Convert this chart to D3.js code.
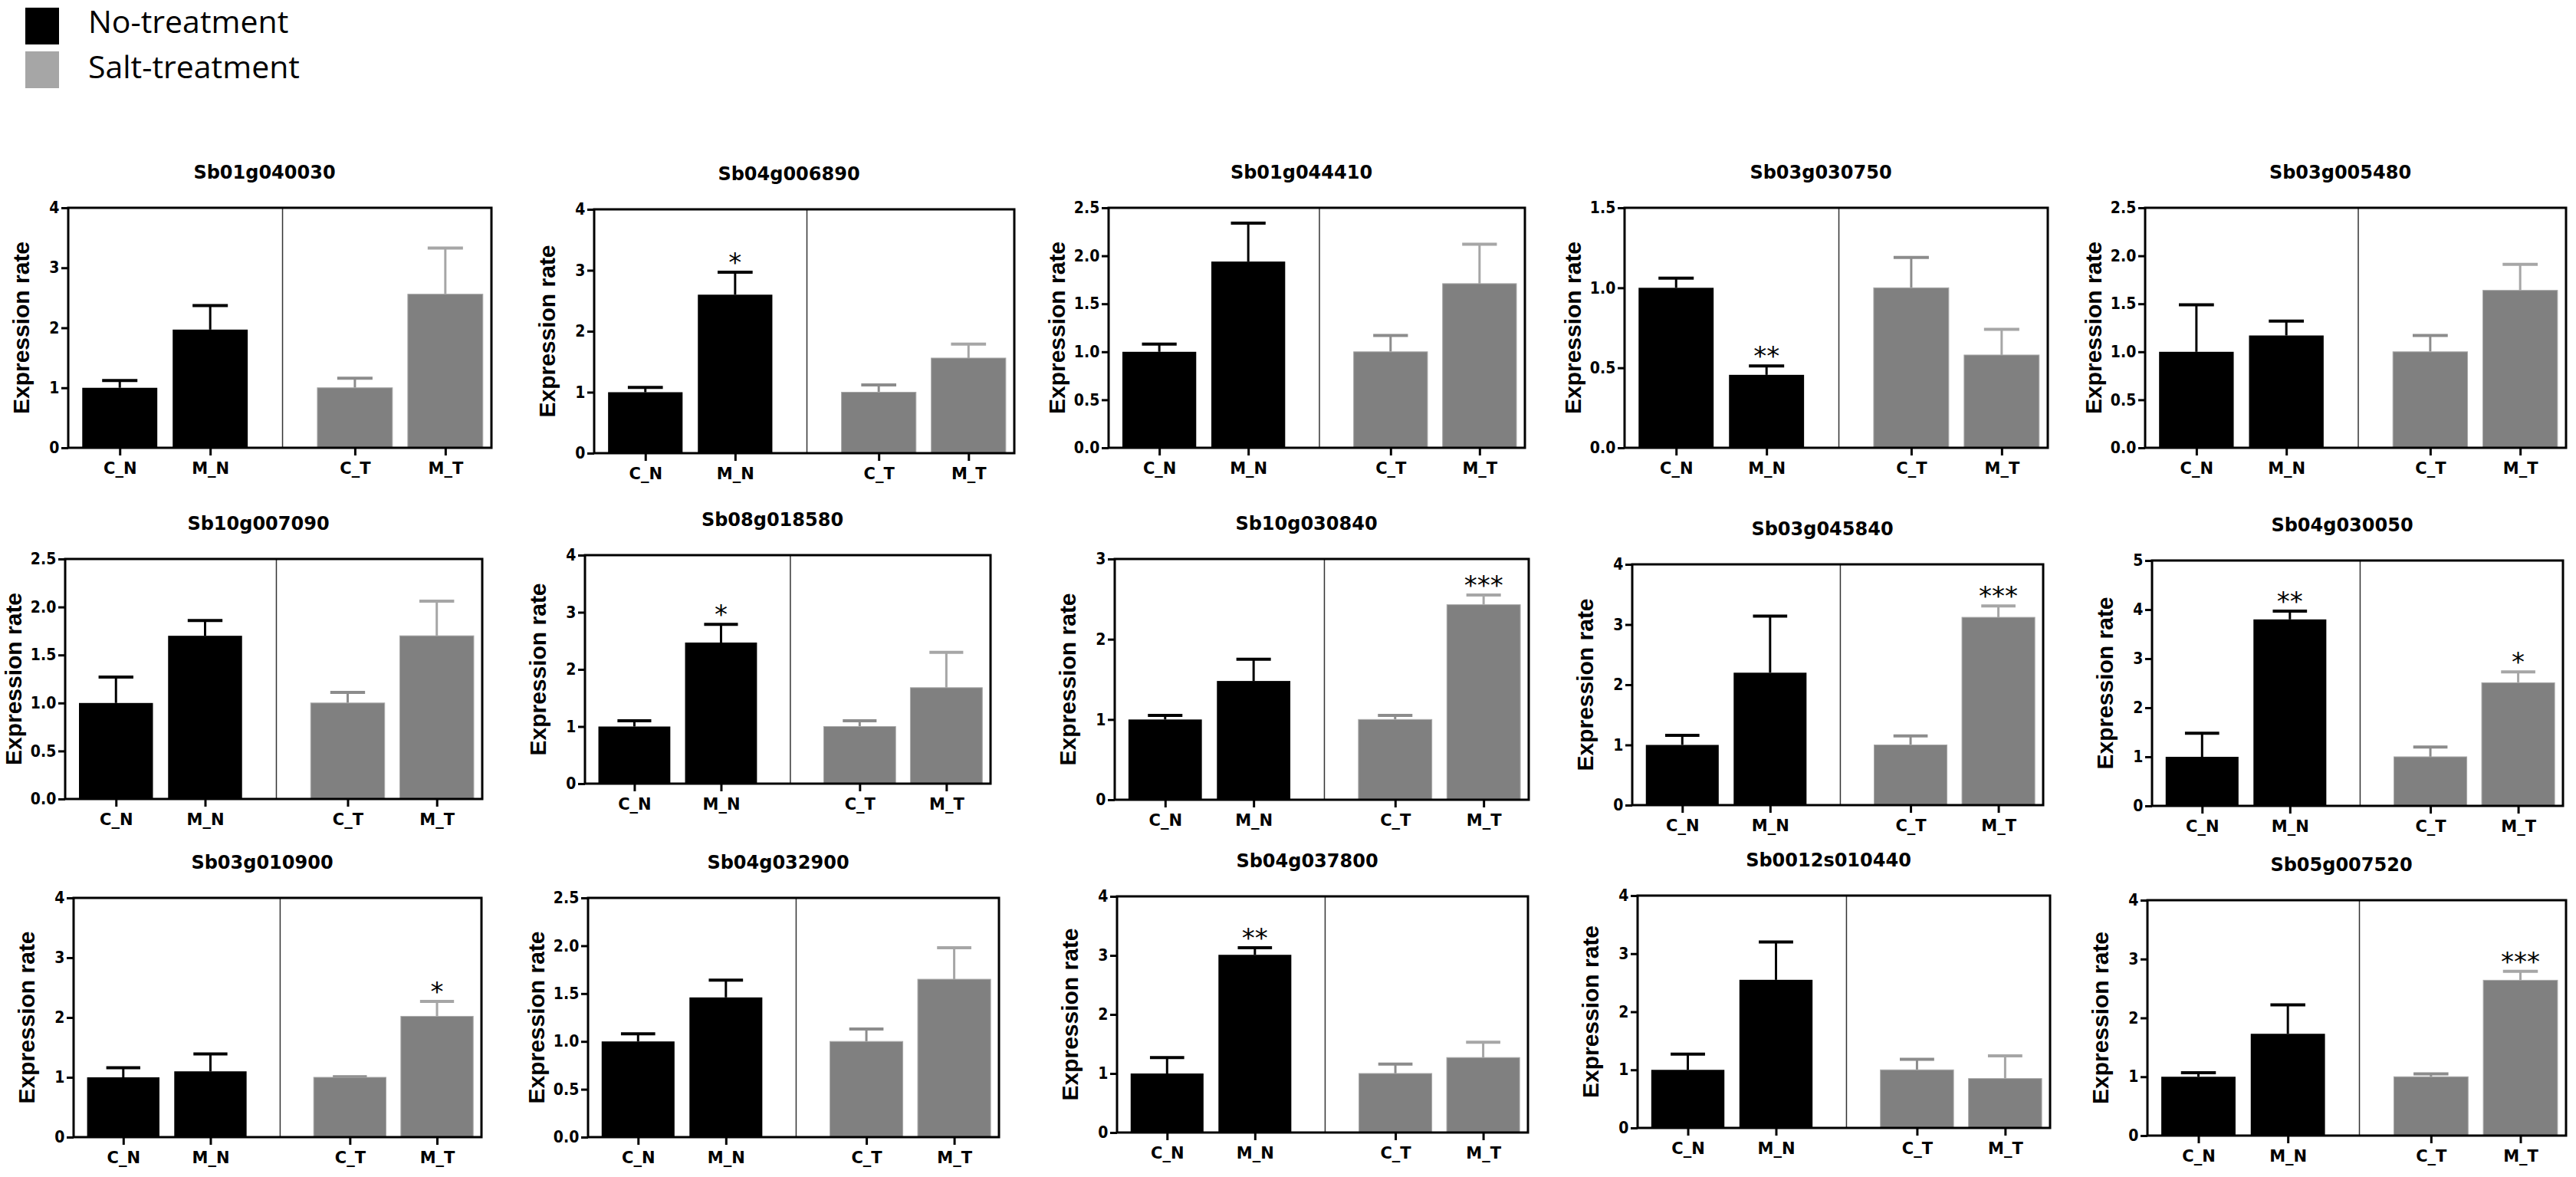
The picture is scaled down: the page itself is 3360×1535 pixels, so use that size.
<!DOCTYPE html>
<html>
<head>
<meta charset="utf-8">
<script src="https://cdn.jsdelivr.net/npm/d3@7"></script>
<style>
  body { margin: 0; background: #fff; }
  svg { display: block; }
</style>
</head>
<body>
<svg width="3360" height="1535"></svg>
<script>
// ---- data ----
const groups = ["C_N", "M_N", "C_T", "M_T"];
const legendLabels = ["No-treatment", "Salt-treatment"];
const yLabel = "Expression rate";

const genes = [
    "Sb01g040030", "Sb04g006890", "Sb01g044410", "Sb03g030750", "Sb03g005480",
    "Sb10g007090", "Sb08g018580", "Sb10g030840", "Sb03g045840", "Sb04g030050",
    "Sb03g010900", "Sb04g032900", "Sb04g037800", "Sb0012s010440", "Sb05g007520"
];

const yMax  = [4, 4, 2.5, 1.5, 2.5,  2.5, 4, 3, 4, 5,  4, 2.5, 4, 4, 4];
const yStep = [1, 1, 0.5, 0.5, 0.5,  0.5, 1, 1, 1, 1,  1, 0.5, 1, 1, 1];

// mean per group (C_N, M_N, C_T, M_T)
const means = [
    [1.0, 1.97, 1.0, 2.56],
    [1.0, 2.60, 1.0, 1.56],
    [1.0, 1.94, 1.0, 1.71],
    [1.0, 0.456, 1.0, 0.58],
    [1.0, 1.17, 1.0, 1.64],
    [1.0, 1.70, 1.0, 1.70],
    [1.0, 2.47, 1.0, 1.68],
    [1.0, 1.48, 1.0, 2.43],
    [1.0, 2.20, 1.0, 3.12],
    [1.0, 3.80, 1.0, 2.51],
    [1.0, 1.10, 1.0, 2.02],
    [1.0, 1.46, 1.0, 1.65],
    [1.0, 3.01, 1.0, 1.27],
    [1.0, 2.55, 1.0, 0.85],
    [1.0, 1.73, 1.0, 2.64]
];

// upper error (SEM)
const sems = [
    [0.12, 0.40, 0.16, 0.77],
    [0.08, 0.37, 0.12, 0.23],
    [0.08, 0.40, 0.17, 0.41],
    [0.06, 0.055, 0.19, 0.16],
    [0.49, 0.15, 0.17, 0.27],
    [0.27, 0.16, 0.11, 0.36],
    [0.10, 0.32, 0.10, 0.62],
    [0.05, 0.27, 0.05, 0.12],
    [0.16, 0.94, 0.15, 0.19],
    [0.48, 0.17, 0.20, 0.22],
    [0.16, 0.29, 0.01, 0.25],
    [0.08, 0.18, 0.13, 0.33],
    [0.27, 0.12, 0.16, 0.26],
    [0.27, 0.65, 0.18, 0.39],
    [0.07, 0.49, 0.05, 0.15]
];

const stars = [
    ["", "", "", ""],
    ["", "*", "", ""],
    ["", "", "", ""],
    ["", "**", "", ""],
    ["", "", "", ""],
    ["", "", "", ""],
    ["", "*", "", ""],
    ["", "", "", "***"],
    ["", "", "", "***"],
    ["", "**", "", "*"],
    ["", "", "", "*"],
    ["", "", "", ""],
    ["", "**", "", ""],
    ["", "", "", ""],
    ["", "", "", "***"]
];

// ---- layout ----
// plot boxes: left, top, right, bottom
const boxes = [
    [89, 271, 641, 584], [775, 273, 1323, 591], [1446, 271, 1989, 584],
    [2119, 271, 2671, 584], [2798, 271, 3347, 584],
    [85, 729, 629, 1042], [763, 724, 1292, 1022], [1454, 729, 1994, 1043],
    [2129, 736, 2665, 1050], [2807, 731, 3343, 1051],
    [96, 1171, 628, 1483], [767, 1171, 1303, 1483], [1457, 1169, 1993, 1477],
    [2136, 1168, 2674, 1471], [2801, 1174, 3347, 1481]
];
const groupPos = [0, 1, 2.6, 3.6];
const barColor = ["#000", "#000", "#808080", "#808080"];
const errColor = ["#000", "#000", "#8c8c8c", "#a6a6a6"];
const boldFont = "'DejaVu Sans', sans-serif";

const svg = d3.select("svg");

function drawLegend(svg) {
    const colors = ["#000", "#a6a6a6"];
    legendLabels.forEach((lab, k) => {
        svg.append("rect")
            .attr("x", 33).attr("y", 10 + k * 57)
            .attr("width", 44).attr("height", 48)
            .style("fill", colors[k]);
        svg.append("text")
            .attr("x", 115).attr("y", 43 + k * 59)
            .style("font-family", "'Open Sans', sans-serif")
            .style("font-size", "41px")
            .style("fill", "#000")
            .text(lab);
    });
}

function drawPanel(svg, i) {
    const [x0, y0, x1, y1] = boxes[i];
    const w = x1 - x0;
    const h = y1 - y0;
    const step = yStep[i];

    const g = svg.append("g").attr("transform", `translate(${x0},${y0})`);

    const scX = d3.scaleLinear().domain([-0.57, 4.11]).range([0, w]);
    const scY = d3.scaleLinear().domain([0, yMax[i]]).range([h, 0]);
    const unit = scX(1) - scX(0);
    const barW = unit * 0.83;
    const capW = barW * 0.47;

    const rows = groups.map((k, j) => ({
        key: k,
        pos: groupPos[j],
        mean: means[i][j],
        top: means[i][j] + sems[i][j],
        star: stars[i][j],
        j: j
    }));

    // title
    svg.append("text")
        .attr("x", x0 + w / 2 - 20)
        .attr("y", y0 - 38)
        .attr("text-anchor", "middle")
        .style("font-family", boldFont)
        .style("font-weight", "bold")
        .style("font-size", "24px")
        .text(genes[i]);

    // y label
    const labOff = step < 1 ? 68 : 62;
    svg.append("text")
        .attr("transform", `translate(${x0 - labOff},${y0 + h / 2}) rotate(-90)`)
        .attr("text-anchor", "middle")
        .attr("dy", "0.36em")
        .style("font-family", "'Liberation Sans', Arial, sans-serif")
        .style("font-weight", "bold")
        .style("font-size", "30px")
        .text(yLabel);

    // error bars
    g.selectAll(".err")
        .data(rows)
        .enter()
        .append("line")
        .attr("x1", d => scX(d.pos))
        .attr("x2", d => scX(d.pos))
        .attr("y1", d => scY(d.mean))
        .attr("y2", d => scY(d.top))
        .style("stroke", d => errColor[d.j])
        .style("stroke-width", 3);

    g.selectAll(".cap")
        .data(rows)
        .enter()
        .append("line")
        .attr("x1", d => scX(d.pos) - capW / 2)
        .attr("x2", d => scX(d.pos) + capW / 2)
        .attr("y1", d => scY(d.top))
        .attr("y2", d => scY(d.top))
        .style("stroke", d => errColor[d.j])
        .style("stroke-width", 4);

    // bars
    g.selectAll(".bar")
        .data(rows)
        .enter()
        .append("rect")
        .attr("x", d => scX(d.pos) - barW / 2)
        .attr("y", d => scY(d.mean))
        .attr("width", barW)
        .attr("height", d => h - scY(d.mean))
        .style("fill", d => barColor[d.j])
        .style("stroke", d => d.j >= 2 ? "#a8a8a8" : "none")
        .style("stroke-width", 1);

    // significance marks
    g.selectAll(".star")
        .data(rows.filter(d => d.star !== ""))
        .enter()
        .append("text")
        .attr("x", d => scX(d.pos))
        .attr("y", d => scY(d.top) - 1)
        .attr("text-anchor", "middle")
        .style("font-family", "'DejaVu Sans', sans-serif")
        .style("font-size", "34px")
        .text(d => d.star);

    // divider between treatments
    g.append("line")
        .attr("x1", scX(1.8)).attr("x2", scX(1.8))
        .attr("y1", 0).attr("y2", h)
        .style("stroke", "#333")
        .style("stroke-width", 1.5);

    // frame
    g.append("rect")
        .attr("x", 0).attr("y", 0)
        .attr("width", w).attr("height", h)
        .style("fill", "none")
        .style("stroke", "#000")
        .style("stroke-width", 3);

    // axes
    const ticks = d3.range(0, yMax[i] + step / 2, step);
    const yAxis = g.append("g")
        .call(d3.axisLeft(scY)
            .tickValues(ticks)
            .tickSize(9)
            .tickSizeOuter(0)
            .tickPadding(2)
            .tickFormat(step < 1 ? d3.format(".1f") : d3.format("d")));

    const xAxis = g.append("g")
        .attr("transform", `translate(0,${h})`)
        .call(d3.axisBottom(scX)
            .tickValues(groupPos)
            .tickSize(10)
            .tickSizeOuter(0)
            .tickPadding(9)
            .tickFormat((d, k) => groups[k]));

    [yAxis, xAxis].forEach(ax => {
        ax.select(".domain").remove();
        ax.selectAll("line").style("stroke", "#000").style("stroke-width", 3);
        ax.selectAll("text")
            .style("font-family", boldFont)
            .style("font-weight", "bold")
            .style("fill", "#000");
    });
    yAxis.selectAll("text")
        .style("font-size", "21px")
        .attr("transform", "scale(0.9,1)")
        .attr("x", -13);
    xAxis.selectAll("text").style("font-size", "21px");
}

drawLegend(svg);
genes.forEach((gene, i) => drawPanel(svg, i));
</script>
</body>
</html>
